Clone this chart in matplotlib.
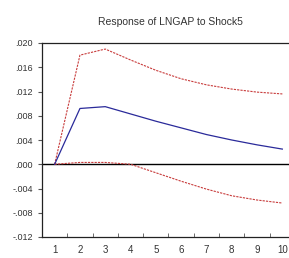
import matplotlib.pyplot as plt
import numpy as np

periods = [1, 2, 3, 4, 5, 6, 7, 8, 9, 10]
response = [0.0, 0.0092, 0.0095, 0.0083, 0.0071, 0.0060, 0.0049, 0.0040, 0.0032, 0.0025]
upper = [0.0, 0.0180, 0.0190, 0.0172, 0.0155, 0.0141, 0.0131, 0.0124, 0.0119, 0.0116]
lower = [0.0, 0.0003, 0.0003, 0.0000, -0.0014, -0.0028, -0.0041, -0.0052, -0.0059, -0.0064]
yticks = [0.020, 0.016, 0.012, 0.008, 0.004, 0.000, -0.004, -0.008, -0.012]
ytick_labels = [".020", ".016", ".012", ".008", ".004", ".000", "-.004", "-.008", "-.012"]

plt.rcParams['font.family'] = ['Liberation Sans', 'DejaVu Sans']

fig = plt.figure(figsize=(2.89, 2.58), dpi=100)
# axes runs past the right edge like the cropped original
ax = fig.add_axes([42 / 289, 1 - 237 / 258, 253 / 289, 194 / 258])

ax.axhline(0, color="black", linewidth=1.0)
ax.plot(periods, upper, color="#c83c3c", linestyle=(0, (2, 1)), linewidth=0.8)
ax.plot(periods, lower, color="#c83c3c", linestyle=(0, (2, 1)), linewidth=0.8)
ax.plot(periods, response, color="#2a2a9a", linewidth=0.9)

ax.set_xlim(0.5, 10.5)
ax.set_ylim(-0.012, 0.020)

ax.set_yticks(yticks)
ax.set_yticklabels(ytick_labels)
ax.set_xticks(periods)
ax.set_xticklabels([str(p) for p in periods])
ax.set_xticks(np.arange(1.5, 10.5, 1.0), minor=True)
ax.tick_params(axis="x", which="major", length=0, pad=6, labelsize=7, labelcolor="#333333")
ax.tick_params(axis="x", which="minor", direction="in", length=3, color="#555555")
ax.tick_params(axis="y", direction="out", length=3, labelsize=6.5, labelcolor="#333333", color="#555555")

for side in ["top", "left", "bottom"]:
    ax.spines[side].set_color("#222222")
    ax.spines[side].set_linewidth(0.9)
ax.spines["right"].set_visible(False)

fig.text(170 / 289, 1 - 22 / 258, "Response of LNGAP to Shock5", ha="center", va="center",
         fontsize=7.5, color="#333333")

fig.savefig("out.png", dpi=100)
